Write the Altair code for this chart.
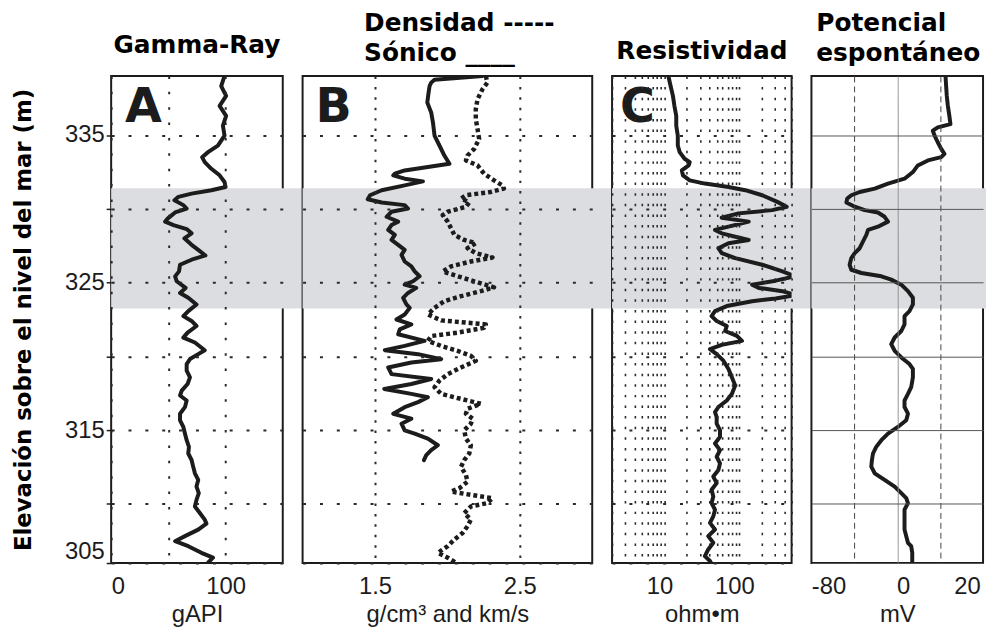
import altair as alt
import pandas as pd

# ---------------- data ----------------
Y_DOMAIN = [306, 339]
Y_GRID = [306, 310, 315, 320, 325, 330, 335]
BAND = [323.25, 331.4]          # shaded interval (m)

# A: Gamma-Ray (gAPI)
gr_elev = [339.00, 338.32, 337.65, 336.98, 336.30, 335.63, 334.96, 334.28, 333.84, 333.50,
           333.16, 332.71, 332.27, 331.82, 331.48, 331.26, 331.03, 330.81, 330.58, 330.25,
           330.02, 329.75, 329.35, 329.13, 328.90, 328.63, 328.34, 328.00, 327.56, 327.22,
           326.84, 326.55, 326.21, 325.76, 325.42, 325.09, 324.64, 324.30, 323.97, 323.52,
           323.07, 322.73, 322.40, 322.06, 321.61, 321.27, 320.94, 320.42, 320.15, 319.82,
           319.48, 319.03, 318.58, 318.13, 317.68, 317.35, 317.01, 316.56, 316.11, 315.67,
           315.22, 314.77, 314.32, 313.87, 313.42, 312.98, 312.53, 312.08, 311.63, 311.18,
           310.73, 310.28, 309.83, 309.39, 308.94, 308.67, 308.26, 307.82, 307.48, 307.14,
           306.69, 306.36, 306.02]
gr_api = [99.1, 96.2, 100.5, 94.8, 100.5, 97.7, 99.1, 93.3, 84.7, 79.5,
          81.8, 87.6, 94.8, 99.1, 100.0, 87.6, 70.3, 58.8, 55.3, 63.1,
          66.0, 55.9, 49.6, 47.2, 54.5, 66.0, 70.3, 64.0, 70.3, 76.1,
          82.4, 70.3, 60.2, 59.3, 55.9, 57.3, 65.1, 60.2, 67.4, 74.6,
          67.4, 63.1, 70.3, 74.6, 66.8, 63.1, 73.2, 81.8, 76.1, 68.9,
          66.0, 66.0, 68.9, 66.8, 61.7, 60.2, 66.0, 64.5, 60.2, 60.2,
          63.1, 64.5, 66.0, 68.0, 67.4, 70.3, 71.7, 73.2, 76.1, 74.6,
          76.6, 74.6, 73.2, 77.5, 81.8, 83.3, 76.1, 64.5, 55.9, 67.4,
          78.9, 89.0, 84.7]

# B: Sonico (solid) and Densidad (dotted)
son_elev = [339.00, 338.75, 338.55, 338.32, 337.87, 337.20, 336.53, 335.86, 334.96, 334.29,
            333.61, 333.05, 332.83, 332.60, 332.38, 332.27, 332.04, 331.86, 331.59, 331.26,
            330.92, 330.65, 330.43, 330.25, 330.02, 329.80, 329.46, 329.13, 328.90, 328.57,
            328.23, 327.89, 327.56, 327.22, 326.88, 326.43, 326.10, 325.76, 325.43, 325.09,
            324.86, 324.64, 324.30, 323.97, 323.52,
            323.29, 322.84, 322.50, 322.17, 321.83, 321.50, 321.05, 320.71, 320.42, 320.15,
            319.81, 319.59, 319.25, 318.80, 318.47, 318.13, 317.79, 317.46, 317.23, 316.90,
            316.56, 316.11, 315.78, 315.44, 314.99, 314.77, 314.43, 313.98, 313.65, 313.31,
            312.97]
son_val = [2.242, 1.911, 1.888, 1.877, 1.870, 1.861, 1.888, 1.900, 1.911, 1.945,
           1.979, 2.014, 1.865, 1.705, 1.637, 1.626, 1.705, 1.831, 1.705, 1.546,
           1.466, 1.450, 1.546, 1.705, 1.728, 1.614, 1.580, 1.660, 1.614, 1.591,
           1.637, 1.614, 1.660, 1.705, 1.683, 1.705, 1.751, 1.774, 1.808, 1.763,
           1.705, 1.785, 1.728, 1.694, 1.717,
           1.740, 1.705, 1.648, 1.751, 1.671, 1.660, 1.842, 1.705, 1.568, 1.797,
           1.957, 1.751, 1.591, 1.614, 1.888, 1.751, 1.564, 1.751, 1.865, 1.797,
           1.705, 1.626, 1.751, 1.683, 1.705, 1.774, 1.865, 1.934, 1.888, 1.854,
           1.838]

den_elev = [339.00, 338.55, 338.10, 337.43, 336.75, 336.08, 335.41, 334.73, 334.06, 333.61,
            333.28, 332.94, 332.38, 331.93, 331.59, 331.37, 331.14, 330.92, 330.70, 330.43,
            330.14, 329.80, 329.57, 329.13, 328.68, 328.23, 327.89, 327.67, 327.33, 327.00,
            326.70, 326.43, 326.10, 325.76, 325.43, 325.09, 324.68, 324.42, 324.08, 323.74,
            323.29,
            322.84, 322.44, 322.17, 321.94, 321.61, 321.38, 321.05, 320.71, 320.37, 320.04,
            319.70, 319.25, 318.80, 318.36, 317.91, 317.46, 317.12, 316.79, 316.45, 316.11,
            315.78, 315.44, 314.99, 314.43, 313.98, 313.42, 312.97, 312.52, 311.96, 311.51,
            311.07, 310.84, 310.62, 310.39, 310.06, 309.83, 309.38, 308.94, 308.49, 308.04,
            307.59, 307.14, 306.69, 306.36, 306.02]
den_val = [2.265, 2.276, 2.242, 2.208, 2.196, 2.196, 2.208, 2.219, 2.185, 2.139,
           2.128, 2.208, 2.253, 2.322, 2.379, 2.390, 2.299, 2.128, 2.094, 2.151,
           2.128, 2.002, 1.968, 2.002, 2.025, 2.048, 2.116, 2.196, 2.139, 2.196,
           2.311, 2.162, 2.025, 1.968, 2.071, 2.185, 2.322, 2.231, 2.094, 1.979,
           1.911,
           1.865, 1.957, 2.265, 2.253, 2.071, 1.888, 1.865, 1.957, 2.071, 2.162,
           2.196, 2.094, 2.002, 1.945, 1.911, 1.957, 2.094, 2.231, 2.139, 2.128,
           2.174, 2.162, 2.116, 2.128, 2.162, 2.151, 2.116, 2.094, 2.128, 2.139,
           2.082, 2.025, 2.162, 2.311, 2.276, 2.162, 2.116, 2.162, 2.139, 2.105,
           2.048, 2.002, 1.934, 2.002, 2.059]

# C: Resistividad (ohm.m, log scale)
res_elev = [339.00, 338.32, 337.65, 336.98, 336.30, 335.63, 334.96, 334.29, 333.84, 333.39,
            333.16, 332.94, 332.60, 332.27, 331.93, 331.71, 331.48, 331.26, 330.92, 330.47,
            330.14, 329.91, 329.69, 329.40, 329.13, 328.79, 328.57, 328.34, 327.89, 327.67,
            327.33, 327.00, 326.66, 326.21, 325.76, 325.43, 325.13, 324.86, 324.64, 324.42,
            324.15, 323.92, 323.74, 323.41, 323.07, 322.73, 322.40, 322.06, 321.72, 321.39,
            321.05, 320.78, 320.49, 320.15, 319.71, 319.15, 318.58, 318.02, 317.46, 317.01,
            316.57, 316.23, 315.89, 315.44, 315.00, 314.55, 314.10, 313.65, 313.20, 312.75,
            312.30, 311.86, 311.41, 310.96, 310.51, 310.06, 309.61, 309.16, 308.72, 308.27,
            307.82, 307.37, 306.92, 306.47, 306.14, 306.00]
res_ohm = [11.3, 12.1, 13.0, 13.6, 14.4, 14.4, 15.1, 15.1, 16.0, 18.6,
           21.8, 21.1, 17.1, 17.7, 21.8, 34.7, 71.8, 120.4, 202.3, 322.5,
           430.0, 276.1, 97.9, 58.3, 133.6, 71.8, 47.4, 58.3, 133.6, 71.8,
           52.6, 58.3, 88.3, 202.3, 377.4, 560.0, 306.3, 148.2, 182.5, 377.4,
           560.0, 306.3, 148.2, 68.1, 47.4, 42.7, 49.9, 68.1, 64.7, 92.9,
           108.6, 58.3, 40.6, 49.9, 61.4, 71.8, 79.6, 88.3, 79.6, 68.1,
           52.6, 47.4, 49.9, 49.9, 55.3, 55.3, 47.4, 55.3, 49.9, 55.3,
           52.6, 45.0, 49.9, 42.7, 45.0, 42.7, 47.4, 45.0, 40.6, 47.4,
           38.5, 45.0, 38.5, 34.7, 40.6, 42.0]

# D: Potencial espontaneo (mV)
sp_elev = [339.00, 338.32, 337.65, 336.98, 336.30, 335.74, 335.52, 335.29, 334.96, 334.51,
           334.06, 333.72, 333.50, 333.28, 332.94, 332.49, 332.04, 331.71, 331.37, 331.14,
           330.92, 330.70, 330.43, 330.14, 329.91, 329.75, 329.46, 329.13, 328.79, 328.57,
           328.23, 327.78, 327.33, 327.00, 326.66, 326.21, 325.87, 325.65, 325.43, 325.20,
           324.86, 324.42, 323.97, 323.52, 323.07, 322.73, 322.17, 321.72, 321.28, 320.83,
           320.38, 319.93, 319.48, 319.15, 318.58, 317.91, 317.46, 317.01, 316.57, 316.12,
           315.67, 315.22, 314.77, 314.32, 313.87, 313.42, 312.98, 312.53, 312.08, 311.63,
           311.18, 310.73, 310.40, 310.06, 309.61, 309.16, 308.72, 308.27, 307.82, 307.37,
           307.14, 306.70, 306.02]
sp_mv = [22.5, 22.8, 23.1, 23.6, 24.3, 24.8, 18.9, 16.6, 17.4, 18.9,
         20.5, 22.0, 20.5, 14.3, 9.6, 7.3, 3.4, -4.3, -10.5, -17.5,
         -21.4, -23.3, -23.7, -19.8, -15.2, -9.0, -5.9, -4.3, -9.0, -13.6,
         -14.4, -16.0, -17.5, -19.8, -21.4, -22.2, -21.4, -16.7, -7.4, -2.8,
         1.9, 5.0, 7.3, 7.3, 5.7, 3.4, 3.4, 1.9, -1.2, -2.8,
         -1.2, 1.9, 5.7, 7.3, 7.3, 6.5, 5.0, 3.4, 3.4, 5.0,
         4.2, 0.3, -4.3, -7.4, -9.8, -11.3, -11.8, -12.1, -10.5, -5.9,
         -1.2, 1.9, 4.2, 5.0, 3.4, 3.4, 3.4, 3.4, 4.2, 5.0,
         6.5, 7.0, 7.0]

# axis tick values / labels
A_XVALS = [0, 50, 100]
B_XVALS = [1.5, 2.5]
C_XVALS = [2, 3, 4, 5, 6, 7, 8, 9, 10, 20, 30, 40, 50, 60, 70, 80, 90, 100, 200, 300, 400, 500]
D_XVALS = [-20, 0, 20]

# ---------------- styling ----------------
H = 491
W_A, W_B, W_C, W_D = 173, 292, 181, 173
GAP = 20
INK = "#1c1c1c"
BAND_COLOR = "#dcdde0"
GRIDC = "#2a2a2a"
TFONT = "DejaVu Sans"
LFONT = "Liberation Sans"

yscale = alt.Scale(domain=Y_DOMAIN, nice=False, zero=False)

common_x = dict(ticks=False, domain=False, labelFont=LFONT, labelFontSize=24, labelColor=INK,
                labelPadding=12, titleFont=LFONT, titleFontSize=24, titleFontWeight="normal",
                titleColor=INK, titlePadding=4, zindex=1, labelAngle=0)


def y_axis_dotted():
    return alt.Axis(values=Y_GRID, labels=False, ticks=False, domain=False, title=None,
                    grid=True, gridDash=[3, 14], gridColor=GRIDC, gridWidth=2, zindex=1)


y_axis_a = alt.Axis(values=Y_GRID,
                    labelExpr="datum.value == 306 ? '305' : (datum.value % 10 == 5 ? datum.label : '')",
                    labelFlush=True, labelFont=LFONT, labelFontSize=24, labelColor=INK, labelPadding=2,
                    ticks=True, tickSize=5, tickColor=INK, tickWidth=1.5, domain=False,
                    grid=True, gridDash=[3, 14], gridColor=GRIDC, gridWidth=2, zindex=1,
                    title="Elevación sobre el nivel del mar (m)", titleFont=TFONT, titleFontSize=23,
                    titleFontWeight="bold", titleColor="black", titlePadding=29)

y_axis_d = alt.Axis(values=Y_GRID, labels=False, ticks=False, domain=False, title=None,
                    grid=True, gridColor="#555555", gridWidth=1, zindex=1)

band_df = pd.DataFrame({"top": [BAND[1]], "bottom": [BAND[0]]})


def band(x2, yaxis):
    return alt.Chart(band_df).mark_rect(color=BAND_COLOR).encode(
        y=alt.Y("top:Q", scale=yscale, axis=yaxis),
        y2="bottom:Q",
        x=alt.value(0),
        x2=alt.value(x2),
    )


def letter(ch, dx):
    return alt.Chart(pd.DataFrame({"t": [ch]})).mark_text(
        font=TFONT, fontSize=48, fontWeight="bold", align="left", baseline="alphabetic", color=INK
    ).encode(text="t:N", x=alt.value(dx), y=alt.value(46))


def curve(df, xfield, xscale, xaxis, yaxis, dash=None):
    kw = dict(color=INK, strokeWidth=4, clip=True, strokeJoin="round")
    if dash:
        kw.update(strokeDash=dash, strokeCap="butt", strokeWidth=4.5)
    else:
        kw.update(strokeCap="round")
    return alt.Chart(df).mark_line(**kw).encode(
        x=alt.X(f"{xfield}:Q", scale=xscale, axis=xaxis),
        y=alt.Y("elev:Q", scale=yscale, axis=yaxis),
        order=alt.Order("elev:Q", sort="descending"),
    )


def title(text, anchor="middle", dx=0, offset=12):
    kw = dict(text=text, anchor=anchor, font=TFONT, fontSize=25, fontWeight="bold",
              color="black", offset=offset, lineHeight=30)
    if anchor == "start":
        kw.update(align="left", dx=dx)
    return alt.TitleParams(**kw)


# ---- Panel A ----
gr_df = pd.DataFrame({"elev": gr_elev, "api": gr_api})
ax_a = alt.Axis(values=A_XVALS, labelExpr="datum.value == 50 ? '' : datum.label",
                grid=True, gridDash=[2.5, 13], gridColor=GRIDC, gridWidth=2, title="gAPI", **common_x)
panel_a = alt.layer(
    band(W_A + GAP, y_axis_a),
    curve(gr_df, "api", alt.Scale(domain=[0, 150], nice=False), ax_a, y_axis_a),
    letter("A", 14),
).properties(width=W_A, height=H, title=title("Gamma-Ray", offset=18))

# ---- Panel B ----
son_df = pd.DataFrame({"elev": son_elev, "v": son_val})
den_df = pd.DataFrame({"elev": den_elev, "v": den_val})
bscale = alt.Scale(domain=[1, 3], nice=False, zero=False)
ax_b = alt.Axis(values=B_XVALS, format=".1f", grid=True, gridDash=[2.5, 8], gridColor=GRIDC,
                gridWidth=2, title="g/cm³ and km/s", **common_x)
yb = y_axis_dotted()
panel_b = alt.layer(
    band(W_B + GAP, yb),
    curve(den_df, "v", bscale, ax_b, yb, dash=[4, 3]),
    curve(son_df, "v", bscale, ax_b, yb),
    letter("B", 13),
).properties(width=W_B, height=H,
             title=title(["Densidad -----", "Sónico  ____"], anchor="start", dx=62, offset=10))

# ---- Panel C ----
res_df = pd.DataFrame({"elev": res_elev, "r": res_ohm})
ax_c = alt.Axis(values=C_XVALS,
                labelExpr="datum.value == 10 ? '10' : (datum.value == 100 ? '100' : '')",
                labelOffset=-5, grid=True, gridDash=[2.5, 8.2], gridColor=GRIDC, gridWidth=1.6,
                title="ohm•m", **common_x)
yc = y_axis_dotted()
panel_c = alt.layer(
    band(W_C + GAP, yc),
    curve(res_df, "r", alt.Scale(type="log", domain=[2, 500], nice=False), ax_c, yc),
    letter("C", 8),
).properties(width=W_C, height=H, title=title("Resistividad", offset=12))

# ---- Panel D ----
sp_df = pd.DataFrame({"elev": sp_elev, "mv": sp_mv})
ax_d = alt.Axis(values=D_XVALS,
                labelExpr="datum.value == -20 ? '-80' : (datum.value == 0 ? '0' : '20')",
                labelOffset={"condition": [{"test": "datum.value < 0", "value": -26},
                                           {"test": "datum.value == 0", "value": 6}],
                             "value": 27},
                grid=True,
                gridDash={"condition": {"test": "datum.value == 0", "value": [1, 0]}, "value": [6, 4]},
                gridColor={"condition": {"test": "datum.value == 0", "value": "#8a8a8a"}, "value": "#444444"},
                gridWidth=1, title="mV", **common_x)
panel_d = alt.layer(
    band(W_D + 3, y_axis_d),
    curve(sp_df, "mv", alt.Scale(domain=[-40, 40], nice=False), ax_d, y_axis_d),
).properties(width=W_D, height=H,
             title=title(["Potencial", "espontáneo"], anchor="start", dx=5, offset=10))

chart = alt.hconcat(panel_a, panel_b, panel_c, panel_d, spacing=GAP, bounds="flush").properties(
    padding={"left": 3, "top": 0, "right": 0, "bottom": 0}, background="white"
).configure_view(stroke=INK, strokeWidth=2)

chart.save("out.html", embed_options={"renderer": "svg", "actions": False})
